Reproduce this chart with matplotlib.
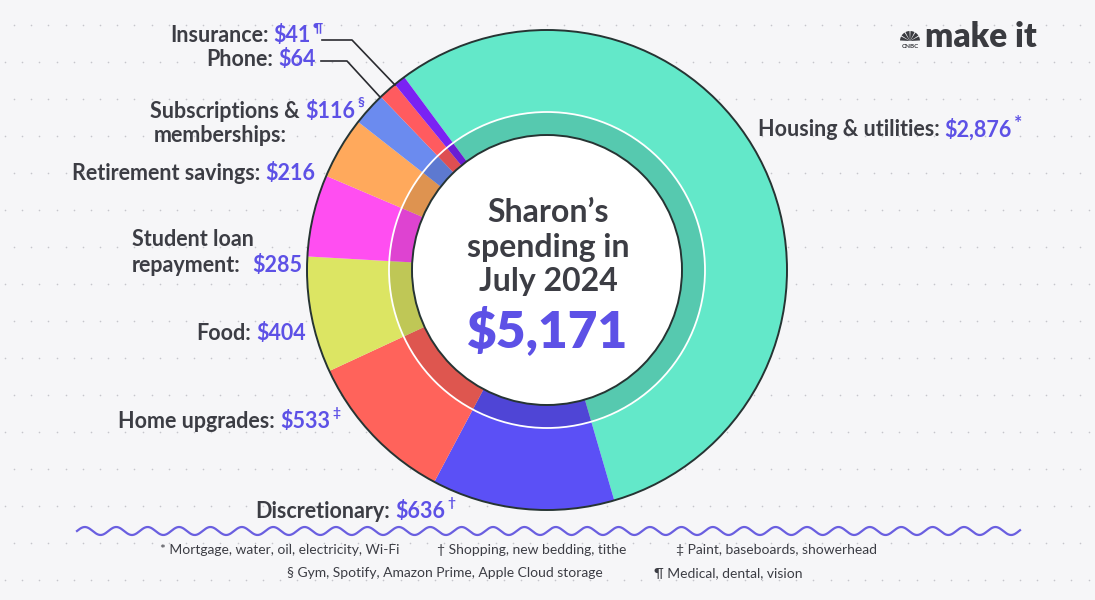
import numpy as np
import matplotlib
matplotlib.use("Agg")
import matplotlib.pyplot as plt
from matplotlib.patches import Circle, Wedge

# data (clockwise from the top-left, starting with housing)
categories = ["Housing & utilities", "Discretionary", "Home upgrades", "Food",
              "Student loan repayment", "Retirement savings",
              "Subscriptions & memberships", "Phone", "Insurance"]
amounts = [2876, 636, 533, 404, 285, 216, 116, 64, 41]
colors = ["#63e8c9", "#5b50f6", "#ff635b", "#dce563", "#ff4ef1",
          "#ffa95c", "#6b8bef", "#ff5b5f", "#7a22f3"]
total_label = "$5,171"
footnotes_1 = ["* Mortgage, water, oil, electricity, Wi-Fi",
               "\u2020 Shopping, new bedding, tithe",
               "\u2021 Paint, baseboards, showerhead"]
footnotes_2 = ["\u00a7 Gym, Spotify, Amazon Prime, Apple Cloud storage",
               "\u00b6 Medical, dental, vision"]

W, H = 1095, 600
GRAY = "#3c3d44"
PURPLE = "#5d51e6"
BG = "#f6f6f8"
FONT = "Lato"


def Y(y):
    return H - y


fig = plt.figure(figsize=(W / 100, H / 100), dpi=100, facecolor=BG)
ax = fig.add_axes([0, 0, 1, 1])
ax.set_facecolor(BG)

cx, cy = 547, 270
R, r_in, r_line = 240, 135, 158

# white center
ax.add_patch(Circle((cx, Y(cy)), r_in, facecolor="white", edgecolor="none", zorder=0))

# dotted background
for k, yy in enumerate(np.arange(25, 600, 37)):
    x0 = 14 if k % 2 == 0 else 5
    xs = np.arange(x0, W, 17.2)
    ax.scatter(xs, np.full(xs.shape, Y(yy)), s=1.4, color="#c6c6cc", lw=0, zorder=1)

# donut
ax.pie(amounts, colors=colors, radius=R, center=(cx, Y(cy)), startangle=126.5,
       counterclock=False, wedgeprops=dict(width=R - r_in, linewidth=0))
for w in ax.patches:
    w.set_zorder(2)
ax.add_patch(Wedge((cx, Y(cy)), r_line, 0, 360, width=r_line - r_in,
                   facecolor="black", alpha=0.13, edgecolor="none", zorder=3))
ax.add_patch(Circle((cx, Y(cy)), r_line, fill=False, edgecolor="white", lw=1.3, zorder=4))
ax.add_patch(Circle((cx, Y(cy)), R, fill=False, edgecolor="#263433", lw=1.4, zorder=4))
ax.add_patch(Circle((cx, Y(cy)), r_in, fill=False, edgecolor="#263433", lw=1.4, zorder=4))

ax.set_xlim(0, W)
ax.set_ylim(0, H)
ax.set_aspect("equal")
ax.axis("off")

renderer = fig.canvas.get_renderer()
FS = 15.5


def right_label(x_end, y, label, value, sup=None):
    v = ax.text(x_end, Y(y), value, ha="right", va="center", fontsize=FS,
                fontweight="bold", color=PURPLE, family=FONT, zorder=5)
    bb = v.get_window_extent(renderer)
    if label:
        ax.text(x_end - bb.width - 5, Y(y), label, ha="right", va="center", fontsize=FS,
                fontweight="bold", color=GRAY, family=FONT, zorder=5)
    if sup:
        ax.text(x_end + 2, Y(y - 8), sup, ha="left", va="center", fontsize=10,
                fontweight="bold", color=PURPLE, family=FONT, zorder=5)


right_label(311, 36, "Insurance:", "$41", "\u00b6")
right_label(316, 60, "Phone:", "$64")
right_label(355, 111, "Subscriptions &", "$116", "\u00a7")
ax.text(154, Y(135), "memberships:", ha="left", va="center", fontsize=FS,
        fontweight="bold", color=GRAY, family=FONT)
right_label(315, 174, "Retirement savings:", "$216")
ax.text(132, Y(239), "Student loan", ha="left", va="center", fontsize=FS,
        fontweight="bold", color=GRAY, family=FONT)
right_label(302, 265, None, "$285")
ax.text(132, Y(265), "repayment:", ha="left", va="center", fontsize=FS,
        fontweight="bold", color=GRAY, family=FONT)
right_label(306, 333, "Food:", "$404")
right_label(330, 421, "Home upgrades:", "$533", "\u2021")
right_label(445, 511, "Discretionary:", "$636", "\u2020")

# housing label on the right
t = ax.text(758, Y(130), "Housing & utilities:", ha="left", va="center", fontsize=FS,
            fontweight="bold", color=GRAY, family=FONT)
bb = t.get_window_extent(renderer)
v = ax.text(758 + bb.width + 5, Y(130), "$2,876", ha="left", va="center", fontsize=FS,
            fontweight="bold", color=PURPLE, family=FONT)
bb2 = v.get_window_extent(renderer)
ax.text(bb2.x1 + 2, Y(124), "*", ha="left", va="center", fontsize=14,
        fontweight="bold", color=PURPLE, family=FONT)

# leader lines
ax.plot([322, 352, 395], [Y(40), Y(40), Y(85)], color="#2a2b30", lw=1.2, zorder=5)
ax.plot([321, 347, 380], [Y(61), Y(61), Y(97)], color="#2a2b30", lw=1.2, zorder=5)

# center text
for yy, s in [(212, "Sharon\u2019s"), (247, "spending in"), (282, "July 2024")]:
    ax.text(548, Y(yy), s, ha="center", va="center", fontsize=23, fontweight="bold",
            color=GRAY, family=FONT, zorder=5)
ax.text(548, Y(330), total_label, ha="center", va="center", fontsize=37, fontweight="heavy",
        color=PURPLE, family=FONT, zorder=5)

# wavy divider
xw = np.linspace(77, 1020, 2000)
ax.plot(xw, Y(531) + 4 * np.sin((xw - 77) / 31.4 * 2 * np.pi), color="#6a5fe0", lw=1.6)

# footnotes
for x, s in zip([160, 437, 676], footnotes_1):
    ax.text(x, Y(550), s, ha="left", va="center", fontsize=10, color=GRAY, family=FONT)
for x, s in zip([287, 654], footnotes_2):
    ax.text(x, Y(573), s, ha="left", va="center", fontsize=10, color=GRAY, family=FONT)

# logo
ax.text(925, Y(37), "make it", ha="left", va="center", fontsize=24, fontweight="heavy",
        color="#3a3b40", family=FONT)
ax.text(910, Y(46), "CNBC", ha="center", va="center", fontsize=4.5, fontweight="bold",
        color="#3a3b40", family=FONT)
for i in range(6):
    a0 = 180 - i * 30
    ax.add_patch(Wedge((910, Y(41)), 10, a0 - 27, a0 - 3, facecolor="#3a3b40",
                       edgecolor="none"))

fig.savefig("out.png", dpi=100, facecolor=BG)
